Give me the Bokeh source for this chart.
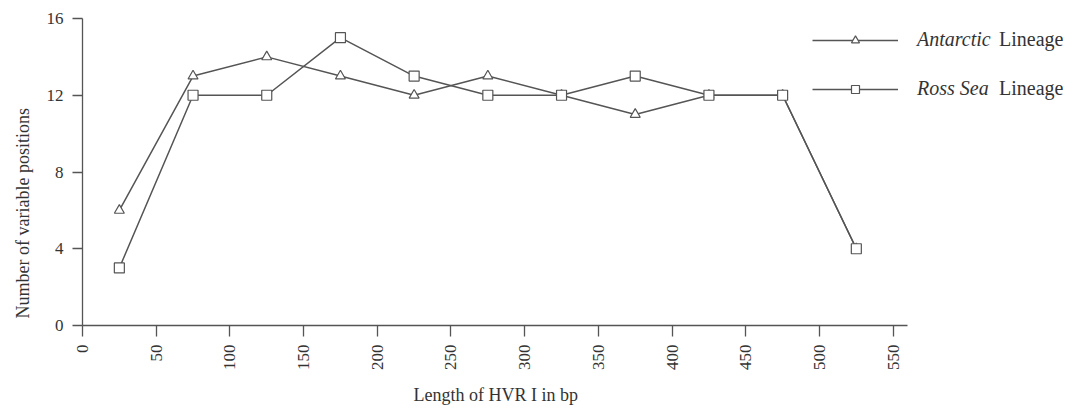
import math
from bokeh.plotting import figure
from bokeh.models import (Range1d, FixedTicker, Legend, LegendItem, Title)
from bokeh.embed import file_html
from bokeh.resources import INLINE

# ---- data ----
lengths = [25, 75, 125, 175, 225, 275, 325, 375, 425, 475, 525]
antarctic = [6, 13, 14, 13, 12, 13, 12, 11, 12, 12, 4]
ross_sea = [3, 12, 12, 15, 13, 12, 12, 13, 12, 12, 4]
x_ticks = [0, 50, 100, 150, 200, 250, 300, 350, 400, 450, 500, 550]
y_ticks = [0, 4, 8, 12, 16]
x_title = "Length of HVR I in bp"
y_title = "Number of variable positions"
series_names = ["Antarctic", "Ross Sea"]
series_word = "Lineage"

LINE = "#555555"
TEXT = "#333333"
FONT = "Liberation Serif"

# frame runs to the right edge so the legend (drawn inside it) is not clipped;
# the x axis itself is limited to 0..560 via bounds
p = figure(width=1075, height=419, output_backend="svg", toolbar_location=None,
           x_range=Range1d(0, 673.7), y_range=Range1d(0, 16),
           min_border_left=82, min_border_right=0, min_border_top=18,
           min_border_bottom=94)
p.outline_line_color = None
p.xgrid.visible = False
p.ygrid.visible = False
p.background_fill_color = "white"
p.border_fill_color = "white"

# axes
for ax in (p.xaxis[0], p.yaxis[0]):
    ax.axis_line_color = LINE
    ax.axis_line_width = 1.3
    ax.major_tick_line_color = LINE
    ax.major_tick_line_width = 1.3
    ax.minor_tick_line_color = None
    ax.major_tick_in = 0
    ax.major_label_text_font = FONT
    ax.major_label_text_font_size = "17px"
    ax.major_label_text_color = TEXT

p.xaxis.bounds = (0, 560)
p.xaxis.ticker = FixedTicker(ticks=x_ticks)
p.yaxis.ticker = FixedTicker(ticks=y_ticks)
p.xaxis.major_tick_out = 11
p.yaxis.major_tick_out = 10
p.xaxis.major_label_orientation = math.pi / 2
p.xaxis.major_label_standoff = 8
p.yaxis.major_label_standoff = 9

# axis titles as side titles so they can be placed under the axis itself
p.add_layout(Title(text=x_title, align="left", offset=331, text_font=FONT,
                   text_font_size="18px", text_font_style="normal",
                   text_color=TEXT, standoff=19), "below")
p.add_layout(Title(text=y_title, align="left", offset=7, text_font=FONT,
                   text_font_size="18px", text_font_style="normal",
                   text_color=TEXT, standoff=21), "left")

# series
la = p.line(lengths, antarctic, line_color=LINE, line_width=1.5)
sa = p.scatter(lengths, antarctic, marker="triangle", size=10, fill_color="white",
               line_color=LINE, line_width=1.2)
lr = p.line(lengths, ross_sea, line_color=LINE, line_width=1.5)
sr = p.scatter(lengths, ross_sea, marker="square", size=10, fill_color="white",
               line_color=LINE, line_width=1.2)

common = dict(glyph_height=20, spacing=26, padding=0, margin=0,
              label_height=20, border_line_alpha=0, background_fill_alpha=0,
              label_text_font=FONT, label_text_font_size="20px",
              label_text_color=TEXT)

legend = Legend(items=[LegendItem(label=series_names[0], renderers=[la, sa]),
                       LegendItem(label=series_names[1], renderers=[lr, sr])],
                location=(730, 225), glyph_width=86, label_standoff=19,
                label_text_font_style="italic", **common)
p.add_layout(legend, "center")

# invisible renderers that carry the plain word of each legend entry
d1 = p.line([], [], line_alpha=0)
d2 = p.line([], [], line_alpha=0)
legend2 = Legend(items=[LegendItem(label=series_word, renderers=[d1]),
                        LegendItem(label=series_word, renderers=[d2])],
                 location=(916, 225), glyph_width=1, label_standoff=0,
                 label_text_font_style="normal", **common)
p.add_layout(legend2, "center")

open("out.html", "w").write(file_html(p, INLINE))
